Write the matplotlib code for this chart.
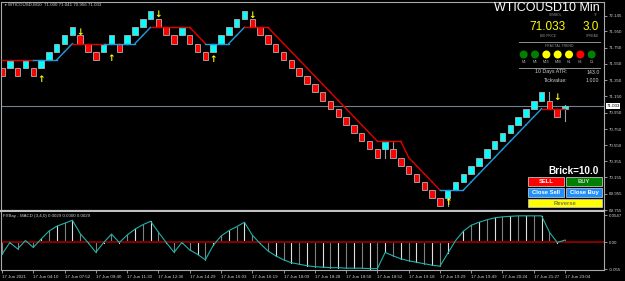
import matplotlib
matplotlib.use('Agg')
import numpy as np
import matplotlib.pyplot as plt
from matplotlib.patches import Rectangle, Circle
from matplotlib.transforms import blended_transform_factory

plt.rcParams['font.family'] = ['Liberation Sans', 'DejaVu Sans']

# renko bricks: top price of each brick, direction (1 = up/aqua, -1 = down/red)
brick_size = 0.1
brick_top = [71.5, 71.6, 71.5, 71.6, 71.5, 71.6, 71.7, 71.8, 71.9, 72.0,
             71.9, 71.8, 71.7, 71.8, 71.9, 71.8, 71.9, 72.0, 72.1, 72.2,
             72.1, 72.0, 71.9, 72.0, 71.9, 71.8, 71.7, 71.8, 71.9, 72.0,
             72.1, 72.2, 72.1, 72.0, 71.9, 71.8, 71.7, 71.6, 71.5, 71.4,
             71.3, 71.2, 71.1, 71.0, 70.9, 70.8, 70.7, 70.6, 70.5, 70.6,
             70.5, 70.4, 70.3, 70.2, 70.1, 70.0, 69.9, 70.0, 70.1, 70.2,
             70.3, 70.4, 70.5, 70.6, 70.7, 70.8, 70.9, 71.0, 71.1, 71.2,
             71.1, 71.0]
brick_dir = [-1, 1, -1, 1, -1, 1, 1, 1, 1, 1,
             -1, -1, -1, 1, 1, -1, 1, 1, 1, 1,
             -1, -1, -1, 1, -1, -1, -1, 1, 1, 1,
             1, 1, -1, -1, -1, -1, -1, -1, -1, -1,
             -1, -1, -1, -1, -1, -1, -1, -1, -1, 1,
             -1, -1, -1, -1, -1, -1, -1, 1, 1, 1,
             1, 1, 1, 1, 1, 1, 1, 1, 1, 1,
             -1, -1]
wick_bar = [49, 50, 57, 70]
wick_end = [70.4, 70.6, 69.8, 71.2]
# unfinished last bar: open, high, low, close
cur_open, cur_high, cur_low, cur_close = 71.000, 71.041, 70.852, 71.033

# trailing line (one value per bar) and its trend runs (direction, bars)
trail = ([71.6] * 8 + [71.7] + [71.8] * 9 + [71.9] + [72.0] * 6 + [71.9] + [71.8] * 4
         + [71.9] + [72.0] * 4
         + [71.9, 71.8, 71.7, 71.6, 71.5, 71.4, 71.3, 71.2, 71.1, 71.0, 70.9, 70.8, 70.7, 70.6]
         + [70.6] * 3 + [70.4, 70.3, 70.2, 70.1, 70.0] + [70.0] * 3
         + [70.1, 70.2, 70.3, 70.4, 70.5, 70.6, 70.7, 70.8, 70.9, 71.0] + [71.0] * 3)
trend_runs = [(-1, 5), (1, 5), (-1, 4), (1, 6), (-1, 7), (1, 5), (-1, 25), (1, 13), (-1, 3)]

arrow_bar = [5, 10, 14, 20, 27, 32, 57, 71]
arrow_price = [71.358, 71.94, 71.62, 72.157, 71.60, 72.14, 69.847, 71.137]
arrow_dir = [1, -1, 1, -1, 1, -1, 1, -1]

macd = [-0.025, -0.001, -0.014, 0.003, -0.011, 0.006, 0.022, 0.032, 0.038, 0.044,
        0.017, -0.001, -0.021, -0.001, 0.016, -0.001, 0.014, 0.026, 0.035, 0.042,
        0.020, -0.001, -0.021, -0.001, -0.016, -0.025, -0.036, -0.007, 0.012, 0.023,
        0.031, 0.040, 0.014, -0.003, -0.018, -0.028, -0.036, -0.042, -0.045, -0.048,
        -0.050, -0.051, -0.052, -0.052, -0.053, -0.053, -0.053, -0.054, -0.054, -0.021,
        -0.028, -0.034, -0.038, -0.041, -0.044, -0.047, -0.049, -0.023, 0.003, 0.022,
        0.034, 0.040, 0.045, 0.049, 0.051, 0.052, 0.053, 0.053, 0.053, 0.053,
        0.020, -0.001, 0.004]

time_labels = ['17 Jun 2021', '17 Jun 04:10', '17 Jun 07:52', '17 Jun 09:40', '17 Jun 11:30',
               '17 Jun 12:36', '17 Jun 14:29', '17 Jun 16:03', '17 Jun 16:19', '17 Jun 18:09',
               '17 Jun 18:28', '17 Jun 18:50', '17 Jun 18:52', '17 Jun 19:18', '17 Jun 19:29',
               '17 Jun 19:49', '17 Jun 20:24', '17 Jun 21:27', '17 Jun 23:04']
price_ticks = [72.145, 71.950, 71.750, 71.550, 71.350, 71.150, 70.950, 70.750,
               70.550, 70.355, 70.155, 69.955, 69.755]
macd_ticks = [0.0547, 0.0, -0.055]
macd_tick_labels = ['0.0547', '0.00', '-0.055']
bid = 71.033

tf_labels = ['M1', 'M5', 'M15', 'M30', 'H1', 'H4', 'D1']
tf_colors = ['#008000', '#008000', '#ffff00', '#ffff00', '#ffff00', '#ff0000', '#008000']

W, H = 625, 281
fig = plt.figure(figsize=(W / 100, H / 100), dpi=100, facecolor='black')
frame = '#a8a8a8'
txt = '#d0d0d0'

ax = fig.add_axes([1 / W, (H - 211) / H, 603 / W, 209 / H], facecolor='black')
ax2 = fig.add_axes([1 / W, (H - 270) / H, 603 / W, 58 / H], facecolor='black')

n = len(brick_top)
# wicks
for b, e in zip(wick_bar, wick_end):
    ax.plot([b, b], [brick_top[b] - brick_size / 2, e], color='#a0a0a0', lw=0.8, zorder=1)
ax.plot([n, n], [cur_low, cur_high], color='#a0a0a0', lw=0.8, zorder=1)
# bricks
for i in range(n):
    col = '#00ffff' if brick_dir[i] > 0 else '#ff0000'
    ax.add_patch(Rectangle((i - 0.35, brick_top[i] - brick_size), 0.7, brick_size,
                           facecolor=col, edgecolor='#b0b0b0', lw=0.6, zorder=2))
ax.add_patch(Rectangle((n - 0.35, cur_open), 0.7, cur_close - cur_open,
                       facecolor='#00ffff', edgecolor='#b0b0b0', lw=0.6, zorder=2))

# trailing line
trend = np.repeat([d for d, c in trend_runs], [c for d, c in trend_runs])
for i in range(len(trail) - 1):
    col = '#1e9be0' if trend[i + 1] > 0 else '#e00000'
    ax.plot([i, i + 1], [trail[i], trail[i + 1]], color=col, lw=1.0, zorder=3)

# signal arrows
for b, p, d in zip(arrow_bar, arrow_price, arrow_dir):
    ax.text(b, p, '↑' if d > 0 else '↓', color='#ffff00', fontsize=6.5, fontweight='bold',
            family='DejaVu Sans', ha='center', va='center', zorder=4)

ax.axhline(bid, color='#708090', lw=0.8, zorder=0)

ax.set_xlim(-0.128, 76.98)
ax.set_ylim(69.743, 72.311)
ax.set_xticks([])
ax.yaxis.tick_right()
ax.set_yticks(price_ticks)
ax.set_yticklabels([f'{p:.3f}' for p in price_ticks])
ax.tick_params(axis='y', colors=txt, labelsize=3.2, length=2, width=0.5, pad=1.5)
for s in ax.spines.values():
    s.set_color(frame)
    s.set_linewidth(0.8)
ax.spines['bottom'].set_linewidth(1.6)
ax.spines['bottom'].set_color('#c0c0c0')

tr = blended_transform_factory(ax.transAxes, ax.transData)
ax.text(1.004, bid, f'{bid:.3f}', transform=tr, fontsize=3.2, color='black', va='center',
        ha='left', bbox=dict(facecolor='white', edgecolor='none', pad=0.5), zorder=5)

# MACD pane
x = np.arange(len(macd))
for i in x:
    ax2.plot([i, i], [0, macd[i]], color='#e0e0e0' if i % 2 else '#808080', lw=0.8, zorder=1)
ax2.axhline(0, color='#800000', lw=1.5, zorder=2)
ax2.plot(x, macd, color='#20b2aa', lw=0.8, zorder=3)
ax2.set_xlim(-0.128, 76.98)
ax2.set_ylim(-0.0567, 0.0608)
ax2.yaxis.tick_right()
ax2.set_yticks(macd_ticks)
ax2.set_yticklabels(macd_tick_labels)
ax2.set_xticks(range(0, 4 * len(time_labels), 4))
ax2.set_xticklabels(time_labels)
for lbl in ax2.get_xticklabels():
    lbl.set_ha('left')
ax2.tick_params(colors=txt, labelsize=3.2, length=2, width=0.5, pad=1.5)
for s in ax2.spines.values():
    s.set_color(frame)
    s.set_linewidth(0.8)
ax2.spines['top'].set_visible(False)

# overlay for panels, buttons and captions (pixel coordinates)
ui = fig.add_axes([0, 0, 1, 1])
ui.set_xlim(0, W)
ui.set_ylim(H, 0)
ui.axis('off')
ui.patch.set_alpha(0)

ui.text(3, 5, '▼', color=txt, fontsize=2.5, va='center', ha='left')
ui.text(8, 5, 'WTICOUSD,M10  71.000 71.041 70.956 71.033', color=txt, fontsize=3.2,
        va='center', ha='left')
ui.text(3, 216.5, 'FXBay - MACD (3,4,0) 0.0029 0.0000 0.0029', color=txt, fontsize=3.2,
        va='center', ha='left')

ui.text(600, 8, 'WTICOUSD10 Min', color='white', fontsize=9, ha='right', va='center')
ui.text(556, 15.5, 'SYMBOL', color='#909090', fontsize=2.3, ha='center', va='center')
ui.text(596, 15.5, 'TF', color='#909090', fontsize=2.3, ha='center', va='center')
ui.text(547.5, 27.5, f'{bid:.3f}', color='#ffff00', fontsize=8.5, ha='center', va='center')
ui.text(591, 27.5, '3.0', color='#ffff00', fontsize=8.5, ha='center', va='center')
ui.text(547.5, 36, 'BID PRICE', color='#909090', fontsize=2.3, ha='center', va='center')
ui.text(592, 36, 'SPREAD', color='#909090', fontsize=2.3, ha='center', va='center')
ui.plot([519, 600], [42, 42], color='#909090', lw=0.7)
ui.text(559, 46, 'FRACTAL TREND', color='#909090', fontsize=2.5, ha='center', va='center')
for j, (lab, col) in enumerate(zip(tf_labels, tf_colors)):
    cx = 523.7 + 11.33 * j
    ui.add_patch(Circle((cx, 54.5), 4, facecolor=col, edgecolor='none'))
    ui.text(cx, 62.3, lab, color='#b0b0b0', fontsize=2.5, ha='center', va='center')
ui.plot([519, 600], [67.5, 67.5], color='#909090', lw=0.7)
ui.text(567.5, 72, '10 Days ATR:', color=txt, fontsize=3.8, ha='right', va='center')
ui.text(599.5, 72, '143.0', color=txt, fontsize=3.8, ha='right', va='center')
ui.text(567.5, 80, 'Tickvalue:', color=txt, fontsize=3.8, ha='right', va='center')
ui.text(599.5, 80, '1.000', color=txt, fontsize=3.8, ha='right', va='center')

ui.text(598.5, 170.5, 'Brick=10.0', color='white', fontsize=7.2, fontweight='bold',
        ha='right', va='center')
buttons = [(528.3, 177.3, 35.7, 8.7, '#ff0000', 'SELL', 'white'),
           (566, 177.3, 36, 8.7, '#008000', 'BUY', '#d0d0d0'),
           (528.3, 188, 35.7, 8.7, '#1e90ff', 'Close Sell', 'white'),
           (566, 188, 36, 8.7, '#1e90ff', 'Close Buy', 'white'),
           (528.3, 198.7, 73.7, 8.6, '#ffff00', 'Reverse', '#7a7a40')]
for bx, by, bw, bh, fc, label, tc in buttons:
    ui.add_patch(Rectangle((bx, by), bw, bh, facecolor=fc, edgecolor='#c0c0c0', lw=0.6))
    ui.text(bx + bw / 2, by + bh / 2 + 0.3, label, color=tc, fontsize=4.2, fontweight='bold',
            ha='center', va='center')

fig.savefig('out.png', dpi=100, facecolor='black')
